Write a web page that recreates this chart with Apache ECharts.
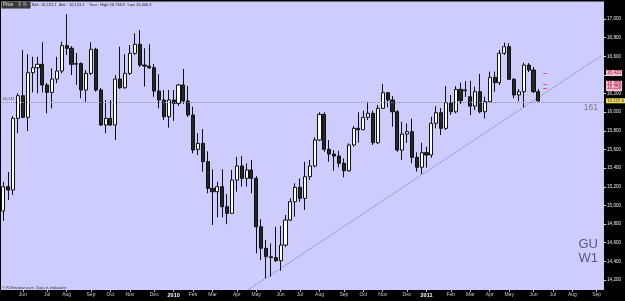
<!DOCTYPE html>
<html><head><meta charset="utf-8">
<script src="https://cdn.jsdelivr.net/npm/echarts@6/dist/echarts.min.js"></script>
<style>html,body{margin:0;padding:0;background:#000;}#c{width:625px;height:301px;}</style>
</head><body><div id="c"></div>
<script>
// ---- data (GBPUSD weekly, shown x10000 as in the platform) ----
const startDate = [2009, 4, 4];   // first weekly bar: 4 May 2009
const weekCount = 124;            // weekly slots on the axis (incl. empty future)
const opens = [
 14940,15201,15165,15934,16177,15945,16424,16477,16514,16292,
 16213,16356,16442,16714,16686,16514,16522,16238,16417,16675,
 16238,15863,15934,15863,16356,16263,16417,16632,16729,16506,
 16495,16477,16227,16131,15952,16131,16095,16292,16120,15970,
 15602,15666,15469,15183,15147,15201,14986,14915,15272,15423,
 15291,15380,15291,14771,14540,14449,14440,14407,14575,14843,
 15040,15194,15076,15308,15423,15702,15977,15602,15551,15530,
 15452,15372,15648,15827,15812,15945,15988,15673,16042,16209,
 16131,16005,15594,15766,15791,15516,15409,15566,15541,15881,
 15995,15827,16102,16005,16245,16230,16166,16066,16220,16005,
 16113,16374,16317,16632,16703,16353,16185,16220,16506,16453,16220];
const highs = [
 15254,15358,15958,16203,16667,16621,16595,16595,16750,16313,
 16471,16595,16757,17050,16710,16635,16535,16453,16750,16690,
 16260,16131,16131,16399,16703,16621,16721,16847,16882,16686,
 16729,16517,16407,16238,16238,16238,16303,16464,16281,16059,
 15777,15820,15580,15387,15254,15387,15122,15380,15523,15530,
 15452,15487,15315,14851,14629,14593,14771,14779,14897,15076,
 15237,15290,15469,15487,15731,15999,15999,15702,15594,15587,
 15505,15666,15852,15999,16016,16113,16016,16077,16303,16217,
 16174,16023,15898,15881,15930,15570,15673,15630,15952,16066,
 16045,16281,16185,16281,16317,16335,16338,16274,16410,16166,
 16435,16435,16667,16747,16740,16367,16249,16531,16528,16485,16249];
const lows = [
 14833,15058,15112,15774,15937,15798,16213,16203,16213,15988,
 16042,16310,16417,16614,16399,16292,16149,16113,16399,16220,
 15852,15774,15852,15702,16250,16250,16399,16614,16485,16274,
 16463,16166,16042,15916,15834,15906,16067,16088,15948,15559,
 15541,15362,15130,14790,14872,14872,14800,14908,15147,15201,
 15201,15130,14486,14414,14218,14235,14393,14299,14553,14833,
 14879,15040,14951,15272,15409,15691,15576,15469,15372,15409,
 15301,15362,15630,15673,15809,15916,15648,15659,16034,16053,
 15844,15576,15487,15670,15452,15362,15337,15406,15512,15827,
 15755,15809,15970,15988,16088,16163,15970,16023,15988,15934,
 16099,16220,16292,16614,16345,16149,16120,16053,16431,16206,16110];
const closes = [
 15201,15165,15934,16177,15945,16424,16477,16514,16292,16213,
 16356,16442,16714,16686,16514,16522,16238,16417,16675,16238,
 15863,15934,15863,16356,16263,16417,16632,16729,16506,16495,
 16477,16227,16131,15952,16131,16095,16292,16120,15970,15594,
 15666,15469,15183,15147,15201,14986,14915,15272,15423,15291,
 15380,15291,14771,14540,14449,14440,14407,14575,14843,15040,
 15194,15076,15308,15423,15702,15977,15602,15551,15530,15452,
 15372,15648,15827,15812,15945,15988,15673,16042,16209,16131,
 16005,15594,15766,15791,15516,15409,15566,15541,15881,15995,
 15827,16102,16005,16245,16124,16240,16066,16220,16005,16113,
 16374,16317,16632,16703,16353,16185,16220,16506,16453,16220,16122];
const trendX = [50, 123];          // trend line anchors (bar index)
const trendY = [14083, 16607];     // trend line values
const refLevel = 16111;            // dotted horizontal level
const orderLevels = [16420, 16305, 16259];
const lastPrice = 16122.6;
const yTickMin = 14000, yTickMax = 17200, yTickStep = 200;
const monthNames = ['Jan','Feb','Mar','Apr','May','Jun','Jul','Aug','Sep','Oct','Nov','Dec'];

// ---- build ----
const categories = [];
const t0 = Date.UTC(startDate[0], startDate[1], startDate[2]);
for (let i = 0; i < weekCount; i++) {
  const d = new Date(t0 + i * 7 * 86400000);
  categories.push(d.getUTCFullYear() + '-' + (d.getUTCMonth() + 1) + '-' + d.getUTCDate());
}
const labelText = {};
for (let i = 1; i < weekCount; i++) {
  const m0 = +categories[i - 1].split('-')[1], m1 = +categories[i].split('-')[1];
  if (m0 !== m1) labelText[i] = m1 === 1 ? '{y|' + categories[i].split('-')[0] + '}' : monthNames[m1 - 1];
}
const candles = opens.map((o, i) => [o, closes[i], lows[i], highs[i]]);
const fmt = v => { const s = String(Math.trunc(v)); return s.slice(0, s.length - 3) + ',' + s.slice(-3); };
const FONT = 'Liberation Sans';
const hidden = {color: 'rgba(0,0,0,0)', width: 0};

const chart = echarts.init(document.getElementById('c'), null, {renderer: 'canvas'});
chart.setOption({
  animation: false,
  backgroundColor: '#000',
  grid: {left: 1, right: 21, top: 0.36, bottom: 2.36, show: true, backgroundColor: '#ccccfd', borderWidth: 0},
  xAxis: {
    type: 'category', data: categories, offset: -8.64, z: 10,
    axisLine: {show: false},
    axisTick: {show: true, length: 2, alignWithLabel: true, interval: (i) => !!labelText[i], lineStyle: {color: '#bbb'}},
    axisLabel: {interval: (i) => !!labelText[i], formatter: (v, i) => labelText[i] || '', margin: 2,
      color: '#c8c8c8', fontSize: 5, fontFamily: FONT,
      rich: {y: {color: '#fff', fontWeight: 'bold', fontSize: 5.5, fontFamily: FONT}}},
    splitLine: {show: false}
  },
  yAxis: {
    type: 'value', position: 'right', min: yTickMin, max: yTickMax, interval: yTickStep, z: 1,
    axisLine: {show: false},
    axisTick: {show: true, length: 2, lineStyle: {color: '#ddd'}},
    axisLabel: {margin: 3, color: '#eee', fontSize: 4.6, fontFamily: FONT,
      formatter: v => (v === yTickMin || v === yTickMax) ? '' : fmt(v)},
    splitLine: {show: false}
  },
  series: [
    {
      type: 'candlestick', data: candles, barWidth: 3.6, z: 2,
      itemStyle: {color: '#ffffff', color0: '#262626', borderColor: '#111', borderColor0: '#111', borderWidth: 1},
      markLine: {
        symbol: 'none', silent: true, animation: false, z: 8,
        data: [
          {yAxis: refLevel, lineStyle: {color: '#8a8aa8', type: 'dotted', width: 1},
           label: {show: true, position: 'insideStartTop', formatter: fmt(refLevel), color: '#555', fontSize: 4.4, fontFamily: FONT, distance: 1}},
          ...orderLevels.map(v => ({yAxis: v, lineStyle: hidden,
            label: {show: true, position: 'end', formatter: fmt(v), color: '#a00030', backgroundColor: '#f4c0d4',
              fontSize: 4.6, fontFamily: FONT, padding: [0.5, 1], distance: 2}})),
          {yAxis: lastPrice, lineStyle: hidden,
           label: {show: true, position: 'end', formatter: fmt(lastPrice) + '.' + String(lastPrice).split('.')[1], color: '#222', backgroundColor: '#f8e060',
             fontSize: 4.4, fontFamily: FONT, padding: [0.5, 1], distance: 2}},
          ...orderLevels.map(v => [{coord: [111, v], lineStyle: {color: '#e0507a', type: 'dashed', width: 1}, label: {show: false}}, {coord: [112, v]}])
        ]
      }
    },
    {
      type: 'line', data: trendX.map((x, i) => [x, trendY[i]]), symbol: 'none', z: 1,
      lineStyle: {color: '#7676b4', type: 'dotted', width: 1}, silent: true
    }
  ],
  graphic: [
    {type: 'rect', z: 5, shape: {x: 0, y: 290, width: 625, height: 11}, style: {fill: '#000'}},
    {type: 'rect', z: 5, shape: {x: 0, y: 0, width: 625, height: 1.5}, style: {fill: '#000'}},
    {type: 'rect', z: 5, shape: {x: 1.5, y: 1.5, width: 29, height: 7}, style: {fill: '#3a3a3a', stroke: '#777', lineWidth: 0.5}},
    {type: 'text', z: 6, x: 3, y: 2.5, style: {text: 'Price', fill: '#eee', font: '4.5px "Liberation Sans"'}},
    {type: 'text', z: 6, x: 18, y: 2.2, style: {text: '⚲ ⎘', fill: '#ddd', font: '5px "DejaVu Sans"'}},
    {type: 'text', z: 6, x: 32, y: 3, style: {text: 'Bid : 16,122.1  Ask : 16,123.1    Year : High 16,746.9  Low 15,406.3', fill: '#222', font: '4px "Liberation Sans"'}},
    {type: 'text', z: 6, x: 2, y: 285.5, style: {text: '© FI-Finance.com  Data is indicative', fill: '#333', font: 'italic 4px "Liberation Sans"'}},
    {type: 'text', z: 6, x: 598, y: 103, style: {text: '161', fill: '#7a7a8a', font: '8.5px "Liberation Sans"', align: 'right'}},
    {type: 'text', z: 6, x: 598, y: 238, style: {text: 'GU', fill: '#5a5a7a', font: '13px "Liberation Sans"', align: 'right'}},
    {type: 'text', z: 6, x: 598, y: 252, style: {text: 'W1', fill: '#5a5a7a', font: '13px "Liberation Sans"', align: 'right'}}
  ]
});
</script></body></html>
